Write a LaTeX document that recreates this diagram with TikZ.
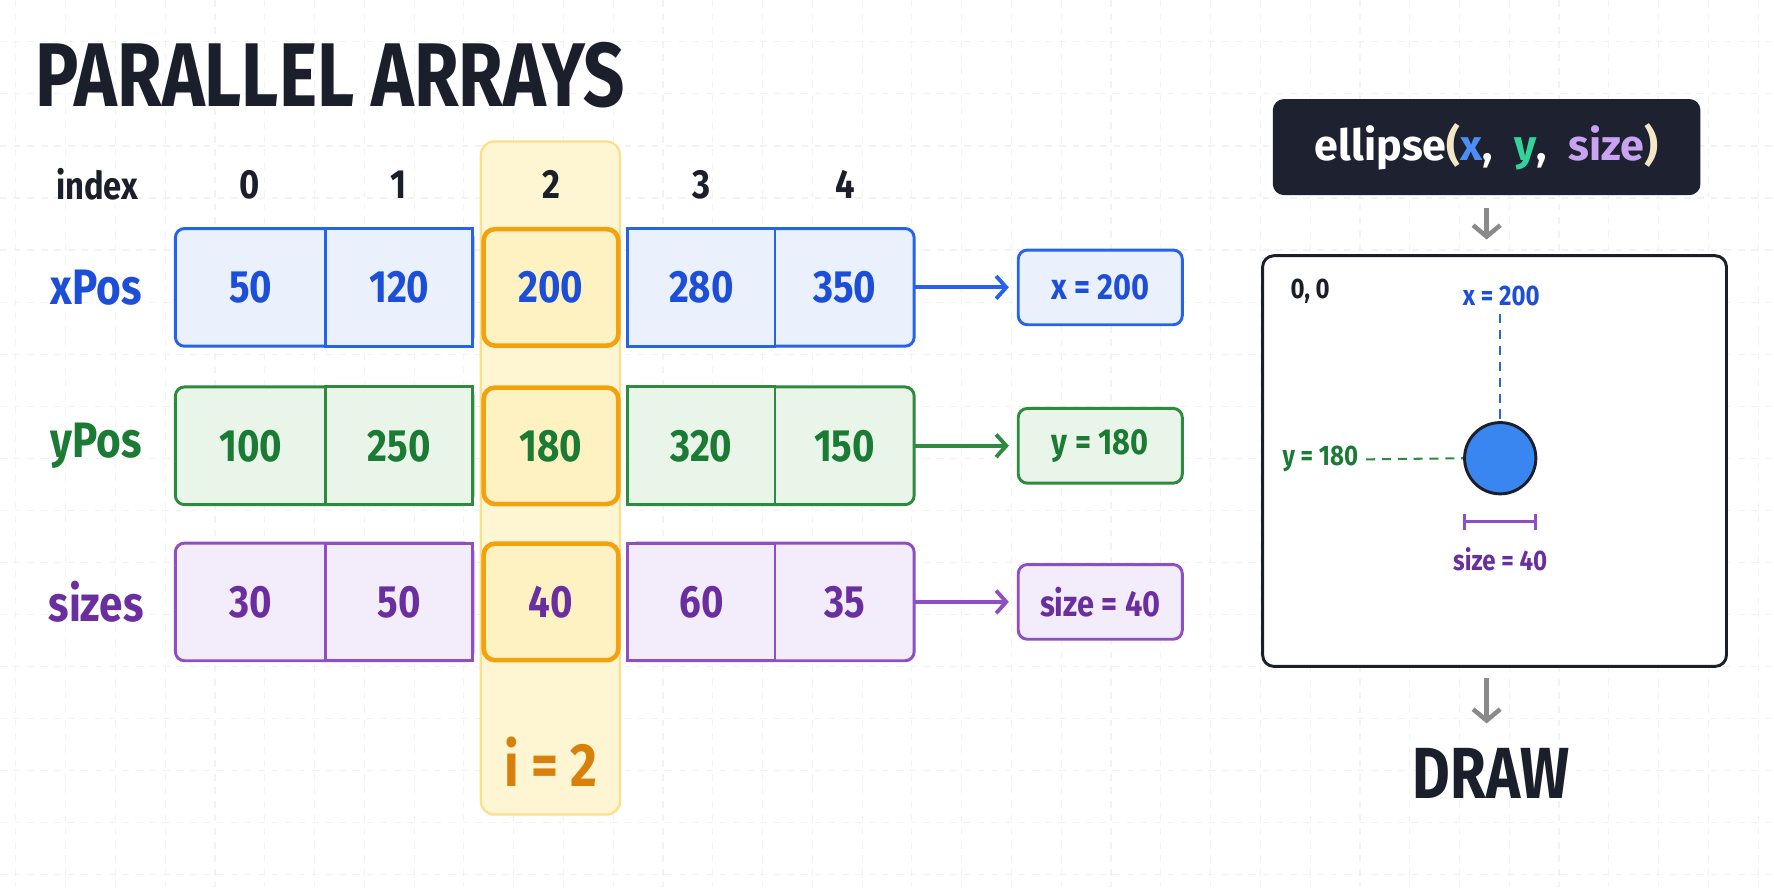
\documentclass[tikz,border=0pt]{standalone}
\usepackage{fontspec}
\setmainfont{Fira Sans}[FakeStretch=0.85]
\newfontfamily\titlefont{Fira Sans}[FakeStretch=0.8]
\newfontfamily\codefont{Fira Sans}
\usetikzlibrary{positioning, arrows.meta}

\definecolor{ink}{HTML}{1B1F2B}
\definecolor{gridc}{HTML}{F3F3F3}
\definecolor{linex}{HTML}{2563EB}
\definecolor{fillx}{HTML}{EAF1FD}
\definecolor{textx}{HTML}{1D4ED8}
\definecolor{liney}{HTML}{2E8B3E}
\definecolor{filly}{HTML}{EAF5EA}
\definecolor{texty}{HTML}{1B7A34}
\definecolor{lines}{HTML}{8E4EC6}
\definecolor{fills}{HTML}{F2ECFB}
\definecolor{texts}{HTML}{6B2E9E}
\definecolor{colfill}{HTML}{FEF5D3}
\definecolor{colline}{HTML}{FCDF8A}
\definecolor{pickline}{HTML}{F4A10E}
\definecolor{pickfill}{HTML}{FEF2C2}
\definecolor{pickt}{HTML}{D9800A}
\definecolor{codebg}{HTML}{1E2130}
\definecolor{codex}{HTML}{4C8DF6}
\definecolor{codey}{HTML}{34D399}
\definecolor{codes}{HTML}{C9A3F2}
\definecolor{paren}{HTML}{F3E7C6}
\definecolor{arrowgray}{HTML}{8A8A8A}
\definecolor{dotblue}{HTML}{3A86F0}

\newcommand\fsz[1]{\fontsize{#1}{#1}\selectfont}

\tikzset{
  gridline/.style={gridc, line width=0.5pt, dash pattern=on 3pt off 3pt},
  idx/.style={text=ink, font=\bfseries\fsz{17}},
  rowlabel/.style={font=\bfseries\fsz{22}},
  group/.style={line width=1.3pt, rounded corners=4pt},
  cell/.style={minimum width=61pt, minimum height=52pt, inner sep=0pt, font=\bfseries\fsz{20}},
  pick/.style={cell, minimum width=59.5pt, minimum height=51.5pt, draw=pickline, fill=pickfill, line width=2pt, rounded corners=5pt},
  result/.style={minimum width=72.5pt, minimum height=33pt, rounded corners=4pt, line width=1.3pt, font=\bfseries\fsz{16}},
  link/.style={line width=1.7pt, -{Straight Barb[length=4.5pt, width=10pt]}, shorten >=3.5pt},
  flow/.style={arrowgray, line width=2pt, -{Straight Barb[length=5pt, width=12pt]}},
  small/.style={font=\bfseries\fsz{12.5}},
  guide/.style={line width=0.9pt, dash pattern=on 4pt off 3pt},
}

\begin{document}
\begin{tikzpicture}[x=0.5pt, y=-0.5pt]
  \useasboundingbox[fill=white] (0,0) rectangle (1568,784);
  % faint grid
  \foreach \gx in {14,58,...,1568} \draw[gridline] (\gx,0) -- (\gx,784);
  \foreach \gy in {37,83,...,784} \draw[gridline] (0,\gy) -- (1568,\gy);

  \node[anchor=west, inner sep=0pt, text=ink, font=\titlefont\bfseries\fsz{40}] (title) at (31,66) {PARALLEL ARRAYS};

  % selected column
  \draw[fill=colfill, draw=colline, line width=1pt, rounded corners=6pt] (425,125) rectangle (548,720);
  \node[font=\bfseries\fsz{27}, text=pickt] (ilabel) at (487,673) {i = 2};

  \node[idx] (index) at (86,163) {index};
  \foreach \i/\x in {0/221,1/352,2/487,3/620,4/747}
    \node[idx, font=\bfseries\fsz{18}] (i\i) at (\x,163) {\i};

  % the three arrays
  \foreach \n/\y/\lab/\va/\vb/\vc/\vd/\ve/\res in {
      x/254/xPos/50/120/200/280/350/{x = 200},
      y/394/yPos/100/250/180/320/150/{y = 180},
      s/532/sizes/30/50/40/60/35/{size = 40}} {
    \node[rowlabel, text=text\n] (lab\n) at (85,\y) {\lab};
    \draw[group, draw=line\n, fill=fill\n] (155,{\y-52}) rectangle (418,{\y+52});
    \draw[line width=1.3pt, draw=line\n, fill=fill\n] (288,{\y-52}) rectangle (418,{\y+52});
    \draw[group, draw=line\n, fill=fill\n] (555,{\y-52}) rectangle (808,{\y+52});
    \draw[line width=1.3pt, draw=line\n, fill=fill\n] (555,{\y-52}) rectangle (685,{\y+52});
    \node[cell, text=text\n] (\n0) at (221.5,\y) {\va};
    \node[cell, text=text\n] (\n1) at (353,\y) {\vb};
    \node[pick, text=text\n] (\n2) at (487,\y) {\vc};
    \node[cell, text=text\n] (\n3) at (620,\y) {\vd};
    \node[cell, text=text\n] (\n4) at (746.5,\y) {\ve};
    \node[result, draw=line\n, fill=fill\n, text=text\n] (res\n) at (972.5,\y) {\res};
    \draw[link, line\n] (\n4.east) -- (res\n.west);
  }

  % call and canvas
  \node[fill=codebg, rounded corners=5pt, minimum width=189pt, minimum height=42.5pt, text=white, font=\codefont\bfseries\fsz{19}] (code) at (1314,130)
    {ellipse{\color{paren}(}{\color{codex}x},\enspace{\color{codey}y},\enspace{\color{codes}size}{\color{paren})}};
  \node[draw=ink, fill=white, line width=1.3pt, rounded corners=5pt, minimum width=205pt, minimum height=181.5pt] (canvas) at (1321,407.5) {};
  \node[inner sep=0pt, text=ink, font=\titlefont\bfseries\fsz{32}] (drawlabel) at (1318,684) {DRAW};
  \draw[flow, shorten <=5.5pt, shorten >=6.5pt] (code.south) -- (code.south |- canvas.north);
  \draw[flow, shorten <=4.5pt, shorten >=11pt] (canvas.south -| code.south) -- (drawlabel.north -| code.south);

  \node[small, text=ink] (origin) at (1158,257) {0, 0};
  \node[small, text=textx] (xlab) at (1327,262) {x = 200};
  \node[circle, draw=ink, fill=dotblue, line width=1.3pt, minimum size=31.5pt, inner sep=0pt] (dot) at (1326,405) {};
  \draw[guide, linex] (xlab.south -| dot.north) -- (dot.north);
  \node[small, text=texty] (ylab) at (1167,406) {y = 180};
  \draw[guide, liney] (ylab.east) -- (dot.west);
  \draw[lines, line width=1.4pt, {Bar[width=7pt]}-{Bar[width=7pt]}] ([yshift=-28pt]dot.west) -- ([yshift=-28pt]dot.east);
  \node[small, text=texts] (sizelab) at (1326,494) {size = 40};
\end{tikzpicture}
\end{document}
